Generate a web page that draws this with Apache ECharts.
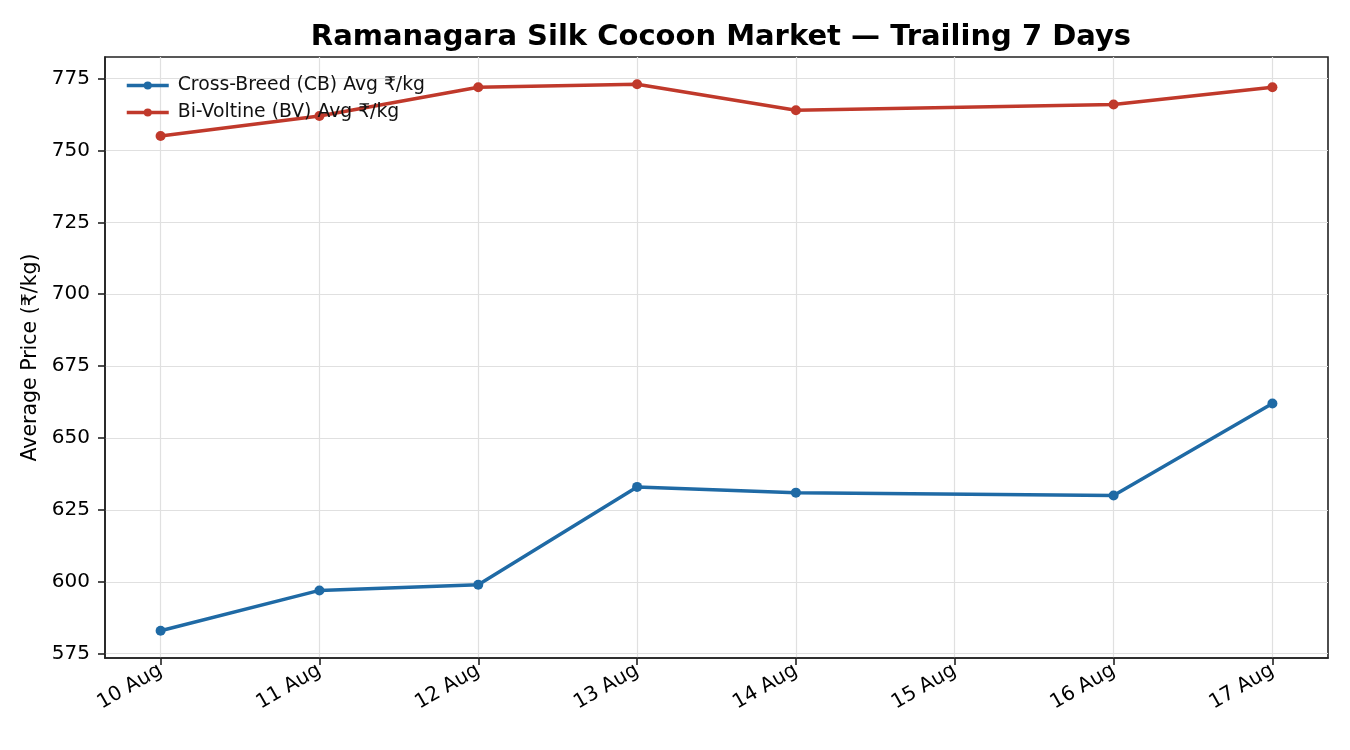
<!DOCTYPE html>
<html><head><meta charset="utf-8">
<script src="https://cdn.jsdelivr.net/npm/echarts@6/dist/echarts.min.js"></script>
<style>html,body{margin:0;padding:0;background:#fff}#c{width:1350px;height:750px}</style>
</head><body><div id="c"></div>
<script>
const dates = ['10 Aug','11 Aug','12 Aug','13 Aug','14 Aug','15 Aug','16 Aug','17 Aug'];
const dayIndex = [0,1,2,3,4,6,7];
const cbValues = [583,597,599,633,631,630,662];
const bvValues = [755,762,772,773,764,766,772];
const yTicks = [575,600,625,650,675,700,725,750,775];
const xTicks = [0,1,2,3,4,5,6,7];

const chart = echarts.init(document.getElementById('c'), null, {renderer:'canvas'});
const font = 'DejaVu Sans';
chart.setOption({
  animation:false,
  backgroundColor:'#fff',
  textStyle:{fontFamily:font},
  title:{text:'Ramanagara Silk Cocoon Market — Trailing 7 Days',left:716,textAlign:'center',top:18,
    textStyle:{fontFamily:font,fontSize:29,fontWeight:'bold',color:'#000'}},
  grid:{left:105,right:22,top:57,bottom:92,show:true,borderColor:'#222',borderWidth:1.6,backgroundColor:'transparent'},
  legend:{left:120,top:71,orient:'vertical',itemGap:8,itemWidth:42,itemHeight:10,
    lineStyle:{width:3.5},
    textStyle:{fontFamily:font,fontSize:18.8,color:'#111',padding:[0,0,0,4]}},
  xAxis:{type:'value',min:-0.35,max:7.35,
    axisLine:{show:true,onZero:false,lineStyle:{color:'#222',width:1.6}},
    axisTick:{show:true,length:7,lineStyle:{color:'#222',width:1.6},customValues:xTicks},
    axisLabel:{customValues:xTicks,rotate:30,fontSize:20,color:'#000',fontFamily:font,margin:11,
      formatter:v=>dates[Math.round(v)]},
    splitLine:{show:true,lineStyle:{color:'#e0e0e0',width:1.2}}},
  yAxis:{type:'value',min:573.5,max:782.5,name:'Average Price (₹/kg)',nameLocation:'middle',nameGap:58,
    nameTextStyle:{fontFamily:font,fontSize:20.5,color:'#000'},
    axisLine:{show:true,onZero:false,lineStyle:{color:'#222',width:1.6}},
    axisTick:{show:true,length:7,lineStyle:{color:'#222',width:1.6},customValues:yTicks},
    axisLabel:{customValues:yTicks,fontSize:20,color:'#000',fontFamily:font,margin:15},
    splitLine:{show:true,lineStyle:{color:'#e0e0e0',width:1.2}}},
  series:[
    {name:'Cross-Breed (CB) Avg ₹/kg',type:'line',data:dayIndex.map((d,i)=>[d,cbValues[i]]),
     color:'#1f6aa5',symbol:'circle',symbolSize:10,lineStyle:{width:3.5}},
    {name:'Bi-Voltine (BV) Avg ₹/kg',type:'line',data:dayIndex.map((d,i)=>[d,bvValues[i]]),
     color:'#c0392b',symbol:'circle',symbolSize:10,lineStyle:{width:3.5}}
  ]
});
</script></body></html>
